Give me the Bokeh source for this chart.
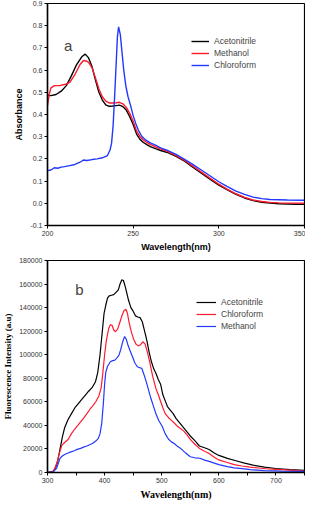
from bokeh.plotting import figure
from bokeh.layouts import column
from bokeh.models import (Legend, LegendItem, Label, FixedTicker,
                          PrintfTickFormatter, Range1d)
from bokeh.embed import file_html
from bokeh.resources import INLINE

# ---------------- Panel a: absorbance ----------------
a_acn_x = [200, 202, 205, 208, 211, 214, 217, 220, 222, 224, 226, 228, 230, 232, 234, 236, 238,
           240, 242, 244, 246, 248, 250, 252, 254, 256, 258, 260, 263, 266, 270, 275, 280, 285,
           290, 295, 300, 305, 310, 315, 320, 325, 330, 335, 340, 345, 350]
a_acn_y = [0.487, 0.485, 0.49, 0.505, 0.53, 0.575, 0.625, 0.66, 0.672, 0.655, 0.615, 0.555, 0.5,
           0.465, 0.443, 0.437, 0.438, 0.44, 0.442, 0.435, 0.42, 0.39, 0.355, 0.312, 0.288, 0.274,
           0.264, 0.255, 0.246, 0.238, 0.229, 0.211, 0.19, 0.162, 0.135, 0.108, 0.082, 0.06, 0.04,
           0.024, 0.012, 0.005, 0.001, -0.002, -0.003, -0.004, -0.005]

a_meoh_x = [200, 201, 202, 204, 207, 210, 213, 216, 219, 221, 223, 224, 226, 228, 230, 232, 234,
            236, 238, 240, 242, 244, 246, 248, 250, 252, 254, 256, 258, 260, 263, 266, 270, 275,
            280, 285, 290, 295, 300, 305, 310, 315, 320, 325, 330, 335, 340, 345, 350]
a_meoh_y = [0.44, 0.49, 0.52, 0.53, 0.53, 0.535, 0.545, 0.58, 0.625, 0.643, 0.64, 0.635, 0.61,
            0.565, 0.515, 0.48, 0.46, 0.452, 0.452, 0.453, 0.455, 0.448, 0.432, 0.405, 0.37, 0.325,
            0.3, 0.285, 0.274, 0.265, 0.254, 0.245, 0.234, 0.215, 0.193, 0.166, 0.139, 0.112,
            0.086, 0.063, 0.043, 0.027, 0.015, 0.008, 0.004, 0.002, 0.001, 0.001, 0.0]

a_chl_x = [200, 202, 204, 206, 208, 210, 213, 216, 219, 221, 223, 226, 229, 232, 235, 236.5,
           237.4, 238.3, 239.3, 240.2, 240.8, 241.5, 242.5, 243.5, 244.5, 245.7, 247, 248.5, 250,
           251.5, 253, 255, 257, 260, 263, 266, 270, 275, 280, 285, 290, 295, 300, 305, 310, 315,
           320, 325, 330, 340, 350]
a_chl_y = [0.147, 0.15, 0.16, 0.158, 0.163, 0.165, 0.17, 0.175, 0.185, 0.195, 0.193, 0.197, 0.2,
           0.205, 0.215, 0.24, 0.271, 0.35, 0.5, 0.65, 0.75, 0.795, 0.76, 0.68, 0.6, 0.53, 0.48,
           0.44, 0.395, 0.36, 0.33, 0.302, 0.287, 0.272, 0.262, 0.25, 0.238, 0.22, 0.198, 0.174,
           0.149, 0.123, 0.097, 0.075, 0.055, 0.04, 0.028, 0.021, 0.017, 0.015, 0.014]

a_yticks = [-0.1, 0.0, 0.1, 0.2, 0.3, 0.4, 0.5, 0.6, 0.7, 0.8, 0.9]
a_xticks = [200, 250, 300, 350]

# ---------------- Panel b: fluorescence ----------------
b_acn_x = [300, 310, 314, 318, 322, 326, 330, 336, 342, 348, 354, 360, 366, 372, 378, 384, 388,
           392, 396, 399, 402, 405, 408, 412, 416, 420, 424, 427, 430, 433, 436, 439, 442, 446,
           450, 454, 458, 462, 466, 470, 474, 478, 482, 486, 490, 494, 498, 502, 506, 510, 515,
           520, 525, 530, 535, 540, 545, 550, 558, 566, 575, 583, 592, 600, 615, 630, 645, 660,
           680, 700, 725, 750]
b_acn_y = [0, 1000, 4000, 10000, 20000, 30000, 38000, 45000, 50000, 55000, 58500, 62000, 65500,
           69000, 72000, 77000, 85000, 100000, 120000, 135000, 142000, 148000, 150000, 150500,
           151000, 153000, 155000, 160000, 163500, 163000, 158000, 152000, 146000, 140000, 137000,
           133000, 132000, 131500, 128000, 120000, 112000, 102000, 94000, 88000, 84000, 79000,
           75000, 66000, 61000, 56000, 53000, 50000, 46000, 43000, 40000, 37000, 34000, 31000,
           27000, 22500, 21000, 19500, 16500, 14500, 12000, 10000, 8000, 6200, 4600, 3400, 2400,
           1800]

b_chl_x = [300, 308, 312, 316.5, 320, 325, 330, 336, 342, 347, 353, 358, 363, 369, 374, 380, 385,
           390, 394, 397, 400, 403, 407, 410, 413, 416, 419, 423, 427, 431, 434, 437.5, 440, 443,
           447, 451, 455, 459, 463, 467, 471, 475, 479, 484, 490, 494, 498, 502, 506, 512, 517,
           522, 528, 534, 539, 545, 550, 558, 567, 575, 583, 592, 600, 615, 627, 640, 655, 670,
           682, 700, 710, 730, 750]
b_chl_y = [0, 500, 2500, 8000, 15000, 23000, 25500, 28000, 33000, 36500, 40000, 43000, 46000,
           50000, 53500, 57000, 60500, 65000, 72000, 85000, 100000, 112000, 122000, 125500,
           125000, 121000, 119500, 122000, 128000, 134000, 137500, 138500, 135000, 127000,
           119000, 113000, 109000, 107500, 108500, 111000, 109000, 102000, 94000, 82000, 71000,
           66000, 60500, 55000, 50000, 46500, 44300, 42000, 39000, 37000, 34900, 31500, 28200,
           24000, 20100, 18000, 16100, 13000, 10700, 8500, 6700, 5500, 4500, 3800, 3200, 2600,
           2400, 1800, 1100]

b_meoh_x = [300, 310, 316, 319, 322, 326, 330, 336, 341, 347, 352, 358, 363, 369, 374, 380, 385,
            389, 392, 395, 398, 400, 402, 405, 410, 414, 418, 422, 425, 428, 432, 435, 438, 441,
            445, 449, 453, 457, 461, 465, 469, 473, 477, 481, 485, 490, 495, 501, 506, 512, 517,
            523, 528, 534, 542, 550, 558, 567, 575, 583, 592, 600, 615, 627, 645, 655, 680, 710,
            750]
b_meoh_y = [0, 500, 3500, 8000, 12100, 14000, 15300, 16500, 17500, 18500, 19600, 20500, 21500,
            22500, 23600, 25000, 26900, 29000, 33000, 42000, 60000, 75000, 85000, 90000, 94000,
            95000, 95400, 97500, 99400, 104000, 111500, 115500, 113000, 108000, 103000, 98000,
            93000, 90000, 89000, 88500, 83000, 77000, 70000, 63000, 57000, 49700, 44000, 39000,
            33000, 28200, 26000, 24200, 22000, 20100, 16500, 13400, 12500, 12100, 10500, 9400,
            8000, 6700, 5000, 4000, 3000, 2400, 1600, 1100, 1000]

b_yticks = [0, 20000, 40000, 60000, 80000, 100000, 120000, 140000, 160000, 180000]
b_xticks = [300, 400, 500, 600, 700]

BLACK = "#000000"
RED = "#ff1a2e"
BLUE = "#2238ff"
SANS = "Liberation Sans"
SERIF = "Liberation Serif"


def style_axes(p, tick_font, label_font):
    for ax in (p.xaxis[0], p.yaxis[0]):
        ax.axis_line_color = "black"
        ax.axis_line_width = 1.5
        ax.major_tick_line_color = "black"
        ax.major_tick_in = 0
        ax.major_tick_out = 3
        ax.minor_tick_line_color = None
        ax.major_label_text_font = tick_font
        ax.major_label_text_font_size = "7px"
        ax.major_label_text_color = "#333333"
        ax.major_label_standoff = 2
        ax.axis_label_text_font = label_font
        ax.axis_label_text_font_style = "bold"
        ax.axis_label_text_font_size = "9px"
        ax.axis_label_text_color = "black"
        ax.axis_label_standoff = 3
    p.xgrid.visible = False
    p.ygrid.visible = False
    p.outline_line_color = "black"
    p.outline_line_width = 1.2


# ---------- figure a ----------
pa = figure(width=305, height=254, output_backend="svg", toolbar_location=None,
            x_range=Range1d(200, 350), y_range=Range1d(-0.1, 0.9),
            min_border_left=26, min_border_right=1, min_border_top=3, min_border_bottom=0)
ra1 = pa.line(a_acn_x, a_acn_y, line_color=BLACK, line_width=1.4)
ra2 = pa.line(a_meoh_x, a_meoh_y, line_color=RED, line_width=1.4)
ra3 = pa.line(a_chl_x, a_chl_y, line_color=BLUE, line_width=1.4)
pa.xaxis.axis_label = "Wavelength(nm)"
pa.yaxis.axis_label = "Absorbance"
style_axes(pa, SANS, SANS)
pa.yaxis.ticker = FixedTicker(ticks=a_yticks)
pa.yaxis.formatter = PrintfTickFormatter(format="%.1f")
pa.xaxis.ticker = FixedTicker(ticks=a_xticks)
leg_a = Legend(items=[LegendItem(label="Acetonitrile", renderers=[ra1]),
                      LegendItem(label="Methanol", renderers=[ra2]),
                      LegendItem(label="Chloroform", renderers=[ra3])],
               location=(144, 154), border_line_color=None, background_fill_alpha=0,
               label_text_font=SANS, label_text_font_size="8.5px", label_height=12,
               glyph_height=12, glyph_width=18, spacing=0, padding=2, margin=0,
               label_standoff=5)
pa.add_layout(leg_a)
pa.add_layout(Label(x=212, y=0.71, text="a", text_font=SANS, text_font_size="15px",
                    text_baseline="middle", text_align="center"))

# ---------- figure b ----------
pb = figure(width=305, height=248, output_backend="svg", toolbar_location=None,
            x_range=Range1d(300, 750), y_range=Range1d(0, 180000),
            min_border_left=30, min_border_right=1, min_border_top=6, min_border_bottom=0)
rb1 = pb.line(b_acn_x, b_acn_y, line_color=BLACK, line_width=1.2)
rb2 = pb.line(b_chl_x, b_chl_y, line_color=RED, line_width=1.2)
rb3 = pb.line(b_meoh_x, b_meoh_y, line_color=BLUE, line_width=1.2)
pb.xaxis.axis_label = "Wavelength(nm)"
pb.yaxis.axis_label = "Fluorescence Intensity (a.u)"
style_axes(pb, SANS, SERIF)
pb.yaxis.ticker = FixedTicker(ticks=b_yticks)
pb.yaxis.formatter = PrintfTickFormatter(format="%d")
pb.xaxis.ticker = FixedTicker(ticks=b_xticks, minor_ticks=[350, 450, 550, 650, 750])
pb.xaxis.minor_tick_line_color = "black"
pb.xaxis.minor_tick_in = 0
pb.xaxis.minor_tick_out = 3
pb.xaxis.axis_label_text_font_size = "10px"
leg_b = Legend(items=[LegendItem(label="Acetonitrile", renderers=[rb1]),
                      LegendItem(label="Chloroform", renderers=[rb2]),
                      LegendItem(label="Methanol", renderers=[rb3])],
               location=(149, 140), border_line_color=None, background_fill_alpha=0,
               label_text_font=SANS, label_text_font_size="8.5px", label_height=12,
               glyph_height=12, glyph_width=20, spacing=0, padding=2, margin=0,
               label_standoff=5)
pb.add_layout(leg_b)
pb.add_layout(Label(x=356, y=155000, text="b", text_font=SANS, text_font_size="15px",
                    text_baseline="middle", text_align="center"))

layout = column(pa, pb, spacing=0)
open("out.html", "w").write(file_html(layout, INLINE))
